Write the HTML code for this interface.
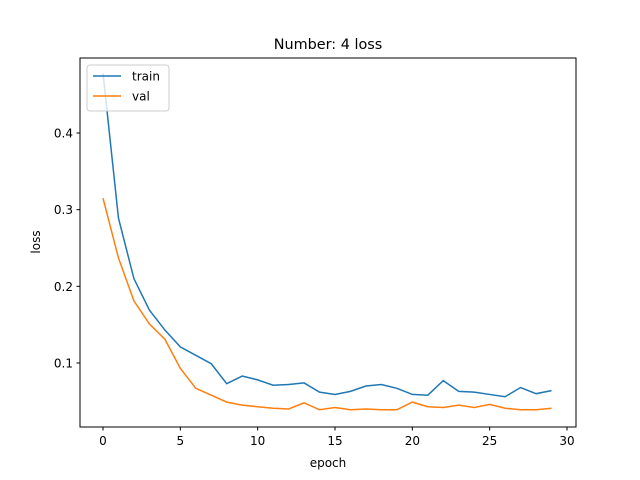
<!DOCTYPE html>
<html><head><meta charset="utf-8"><style>
body{margin:0;background:#fff}
svg{display:block;font-family:"DejaVu Sans","Liberation Sans",sans-serif}
</style></head><body>
<svg id="chart" width="640" height="480" viewBox="0 0 640 480">
<rect width="640" height="480" fill="#fff"/>
<text x="328" y="49" font-size="14.4" text-anchor="middle">Number: 4 loss</text>
<g id="grid"></g>
<g id="lines"></g>
<rect x="80" y="58" width="496" height="369" fill="none" stroke="#000" stroke-width="1"/>
<text x="328" y="467" font-size="12" text-anchor="middle">epoch</text>
<text transform="translate(40,242) rotate(-90)" font-size="12" text-anchor="middle">loss</text>
<g>
<rect x="87" y="65" width="82" height="46" rx="3" fill="#fff" fill-opacity="0.8" stroke="#ccc"/>
<line x1="93" y1="76" x2="121" y2="76" stroke="#1f77b4" stroke-width="1.5"/>
<text x="132" y="80.5" font-size="12">train</text>
<line x1="93" y1="96" x2="121" y2="96" stroke="#ff7f0e" stroke-width="1.5"/>
<text x="132" y="100.5" font-size="12">val</text>
</g>
</svg>
<script>
const epochs = Array.from({length:30},(_,i)=>i);
const trainLoss = [0.478,0.289,0.21,0.169,0.143,0.121,0.11,0.099,0.073,0.083,0.078,0.071,0.072,0.074,0.062,0.059,0.063,0.07,0.072,0.067,0.059,0.058,0.077,0.063,0.062,0.059,0.056,0.068,0.06,0.064];
const valLoss = [0.315,0.237,0.181,0.151,0.131,0.093,0.067,0.058,0.049,0.045,0.043,0.041,0.04,0.048,0.039,0.042,0.039,0.04,0.039,0.039,0.049,0.043,0.042,0.045,0.042,0.046,0.041,0.039,0.039,0.041];
const xTicks = [0,5,10,15,20,25,30];
const yTicks = [0.1,0.2,0.3,0.4];
const NS="http://www.w3.org/2000/svg";
function xs(v){return 103+v*(464/30);}
function ys(v){return 363-(v-0.1)*766.7;}
const g=document.getElementById('grid');
xTicks.forEach(t=>{
  const l=document.createElementNS(NS,'line');
  
  
  l.setAttribute('x1',xs(t));l.setAttribute('x2',xs(t));l.setAttribute('y1',427);l.setAttribute('y2',430.5);l.setAttribute('stroke','#000');
  g.appendChild(l);
  const tx=document.createElementNS(NS,'text');
  
  
  tx.setAttribute('x',xs(t));tx.setAttribute('y',445);tx.setAttribute('font-size','12');tx.setAttribute('text-anchor','middle');
  tx.textContent=t;g.appendChild(tx);
});
yTicks.forEach(t=>{
  const l=document.createElementNS(NS,'line');
  
  
  l.setAttribute('x1',76.5);l.setAttribute('x2',80);l.setAttribute('y1',ys(t));l.setAttribute('y2',ys(t));l.setAttribute('stroke','#000');
  g.appendChild(l);
  const tx=document.createElementNS(NS,'text');
  
  
  tx.setAttribute('x',73);tx.setAttribute('y',ys(t)+4.5);tx.setAttribute('font-size','12');tx.setAttribute('text-anchor','end');
  tx.textContent=t.toFixed(1);g.appendChild(tx);
});
const lg=document.getElementById('lines');
function addLine(data,color,name){
  const p=document.createElementNS(NS,'polyline');
  
  
  p.setAttribute('points',data.map((v,i)=>xs(epochs[i])+','+ys(v)).join(' '));
  p.setAttribute('fill','none');p.setAttribute('stroke',color);p.setAttribute('stroke-width','1.5');
  lg.appendChild(p);
}
addLine(trainLoss,'#1f77b4','train-line');
addLine(valLoss,'#ff7f0e','val-line');
</script>
</body></html>
